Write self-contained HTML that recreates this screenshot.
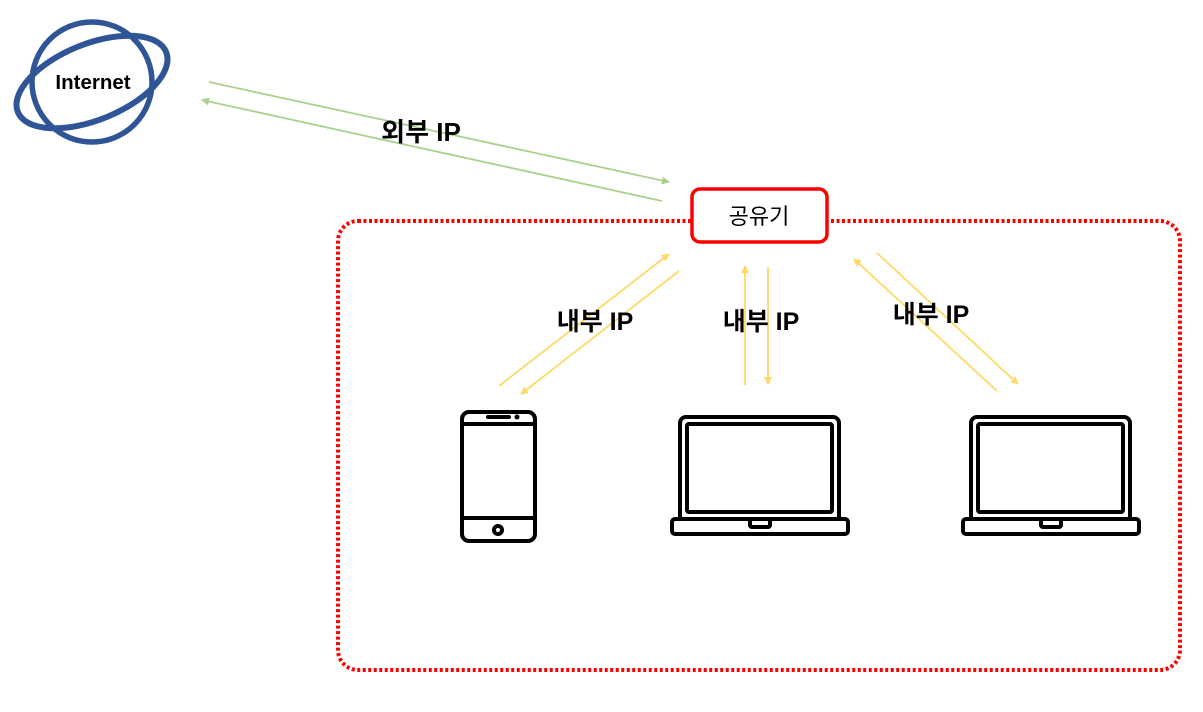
<!DOCTYPE html>
<html><head><meta charset="utf-8"><style>
html,body{margin:0;padding:0;background:#fff;}
svg{display:block;}
text{font-family:"Liberation Sans","Noto Sans CJK KR","NanumGothic",sans-serif;}
</style></head><body>
<svg width="1203" height="712" viewBox="0 0 1203 712" xmlns="http://www.w3.org/2000/svg">
<defs>
<marker id="ag" markerWidth="8" markerHeight="8" refX="7" refY="4" orient="auto" markerUnits="userSpaceOnUse"><path d="M0,0 L8,4 L0,8 z" fill="#A9D18E"/></marker>
<marker id="ay" markerWidth="8" markerHeight="8" refX="7" refY="4" orient="auto" markerUnits="userSpaceOnUse"><path d="M0,0 L8,4 L0,8 z" fill="#FFD966"/></marker>
</defs>
<!-- globe -->
<circle cx="92" cy="82" r="60" fill="none" stroke="#2F5597" stroke-width="5.5"/>
<ellipse cx="92" cy="82" rx="80" ry="38" transform="rotate(-22 92 82)" fill="none" stroke="#2F5597" stroke-width="6"/>
<text x="93" y="89" font-size="20.5" font-weight="bold" text-anchor="middle">Internet</text>
<!-- green -->
<line x1="209" y1="82" x2="669" y2="182" stroke="#A9D18E" stroke-width="1.8" marker-end="url(#ag)"/>
<line x1="662" y1="201" x2="202" y2="100" stroke="#A9D18E" stroke-width="1.8" marker-end="url(#ag)"/>
<text x="421" y="141" font-size="26" font-weight="bold" text-anchor="middle">외부 IP</text>
<!-- dotted -->
<rect x="338" y="221" width="842" height="449" rx="20" fill="none" stroke="#FF0000" stroke-width="4" stroke-dasharray="3 2.5"/>
<!-- router -->
<rect x="692" y="189" width="135" height="53" rx="8" fill="#fff" stroke="#FF0000" stroke-width="3.5"/>
<text x="759" y="224" font-size="22" text-anchor="middle">공유기</text>
<!-- yellow -->
<g stroke="#FFD966" stroke-width="1.8">
<line x1="499" y1="386" x2="669" y2="254" marker-end="url(#ay)"/>
<line x1="679" y1="271" x2="521" y2="394" marker-end="url(#ay)"/>
<line x1="745" y1="385" x2="745" y2="266" marker-end="url(#ay)"/>
<line x1="768" y1="267" x2="768" y2="384" marker-end="url(#ay)"/>
<line x1="997" y1="391" x2="854" y2="259" marker-end="url(#ay)"/>
<line x1="877" y1="253" x2="1018" y2="384" marker-end="url(#ay)"/>
</g>
<text x="595" y="330" font-size="25" font-weight="bold" text-anchor="middle">내부 IP</text>
<text x="761" y="330" font-size="25" font-weight="bold" text-anchor="middle">내부 IP</text>
<text x="931" y="323" font-size="25" font-weight="bold" text-anchor="middle">내부 IP</text>
<!-- phone -->
<g fill="none" stroke="#000" stroke-width="4">
<rect x="462" y="412" width="73" height="129" rx="7"/>
<line x1="462" y1="424" x2="535" y2="424"/>
<line x1="462" y1="518" x2="535" y2="518"/>
<line x1="488" y1="417" x2="509" y2="417" stroke-linecap="round"/>
<circle cx="498" cy="530" r="4"/>
</g>
<circle cx="517" cy="417" r="2.5" fill="#000"/>
<!-- laptops -->
<g id="lap" fill="none" stroke="#000" stroke-width="4">
<path d="M680,519 V423 a6,6 0 0 1 6,-6 H833 a6,6 0 0 1 6,6 V519"/>
<rect x="687" y="424" width="145" height="88" rx="2"/>
<rect x="672" y="519" width="176" height="15" rx="3"/>
<path d="M750,519 v6 a2,2 0 0 0 2,2 h16 a2,2 0 0 0 2,-2 v-6"/>
</g>
<use href="#lap" transform="translate(291,0)"/>
</svg>
</body></html>
